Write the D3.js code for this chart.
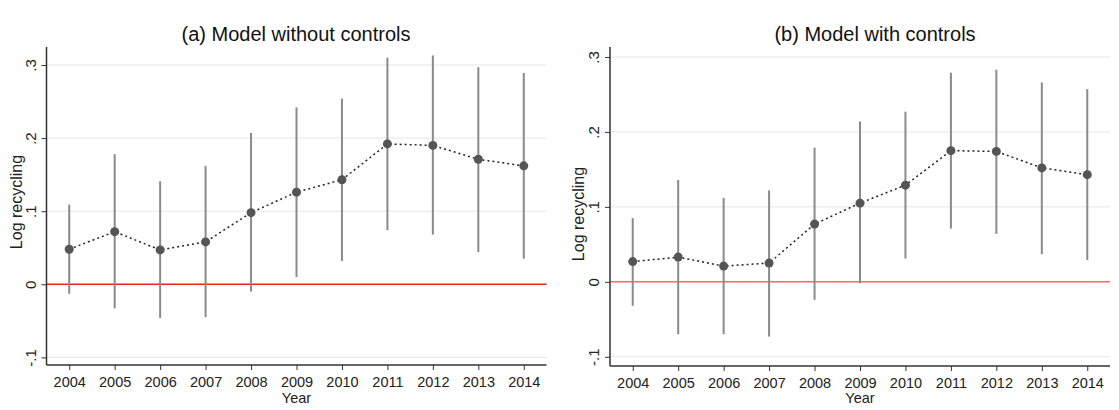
<!DOCTYPE html>
<html>
<head>
<meta charset="utf-8">
<script src="https://cdn.jsdelivr.net/npm/d3@7"></script>
<style>
  body { margin: 0; background: #fff; }
  svg { display: block; font-family: "Liberation Sans", Arial, sans-serif; }
</style>
</head>
<body>
<svg id="chart" width="1119" height="410"></svg>
<script>
const years = [2004, 2005, 2006, 2007, 2008, 2009, 2010, 2011, 2012, 2013, 2014];
const yTicks = [-0.1, 0, 0.1, 0.2, 0.3];
const yTickLabels = ['-.1', '0', '.1', '.2', '.3'];

// (a) model without controls
const estA = [0.048, 0.072, 0.047, 0.058, 0.098, 0.126, 0.143, 0.192, 0.190, 0.171, 0.162];
const lowA = [-0.013, -0.033, -0.046, -0.045, -0.010, 0.010, 0.032, 0.074, 0.068, 0.044, 0.035];
const highA = [0.109, 0.178, 0.141, 0.162, 0.207, 0.242, 0.254, 0.310, 0.313, 0.297, 0.289];

// (b) model with controls
const estB = [0.027, 0.033, 0.021, 0.025, 0.077, 0.105, 0.129, 0.175, 0.174, 0.152, 0.143];
const lowB = [-0.032, -0.070, -0.070, -0.073, -0.024, -0.002, 0.031, 0.071, 0.064, 0.037, 0.029];
const highB = [0.085, 0.136, 0.112, 0.122, 0.179, 0.214, 0.227, 0.279, 0.283, 0.266, 0.257];

const svg = d3.select('#chart');

function drawPanel(opt) {
  const g = svg.append('g');
  const x = d3.scaleLinear().domain([2003.5, 2014.5]).range([opt.left, opt.right]);
  const y = d3.scaleLinear().domain(opt.yDomain).range([opt.bottom, opt.top]);

  // gridlines
  g.selectAll('.grid').data(yTicks.filter(d => d !== 0)).enter()
    .append('line')
    .attr('x1', opt.left).attr('x2', opt.right)
    .attr('y1', d => y(d)).attr('y2', d => y(d))
    .attr('stroke', '#e6e6e6').attr('stroke-width', 1);

  // zero line
  g.append('line')
    .attr('x1', opt.left).attr('x2', opt.right)
    .attr('y1', y(0)).attr('y2', y(0))
    .attr('stroke', opt.zeroColor).attr('stroke-width', 1.5);

  // CI bars
  g.selectAll('.ci').data(years).enter()
    .append('line')
    .attr('x1', d => x(d)).attr('x2', d => x(d))
    .attr('y1', (d, i) => y(opt.low[i])).attr('y2', (d, i) => y(opt.high[i]))
    .attr('stroke', '#8a8a8a').attr('stroke-width', 2);

  // dotted connecting line
  const line = d3.line().x(d => x(d[0])).y(d => y(d[1]));
  g.append('path')
    .datum(years.map((yr, i) => [yr, opt.est[i]]))
    .attr('d', line)
    .attr('fill', 'none')
    .attr('stroke', '#222')
    .attr('stroke-width', 1.5)
    .attr('stroke-dasharray', '2,3');

  // points
  g.selectAll('.pt').data(years).enter()
    .append('circle')
    .attr('cx', d => x(d)).attr('cy', (d, i) => y(opt.est[i]))
    .attr('r', 4.5)
    .attr('fill', '#555');

  // y axis
  const yAxis = d3.axisLeft(y).tickValues(yTicks).tickSize(5)
    .tickFormat((d, i) => yTickLabels[i]);
  const ya = g.append('g').attr('transform', `translate(${opt.left},0)`).call(yAxis);
  ya.select('.domain').attr('d', `M0,${opt.top}V${opt.bottom}`).attr('stroke', '#333').attr('stroke-width', 1.5);
  ya.selectAll('.tick line').attr('stroke', '#333');
  ya.selectAll('.tick text')
    .attr('transform', 'rotate(-90)')
    .attr('x', 0).attr('y', -16)
    .attr('dy', '0.35em')
    .attr('text-anchor', 'middle')
    .attr('font-size', 15).attr('fill', '#222')
    .style('font-family', '"Liberation Sans", Arial, sans-serif');

  // x axis
  const xAxis = d3.axisBottom(x).tickValues(years).tickSize(5).tickFormat(d3.format('d'));
  const xa = g.append('g').attr('transform', `translate(0,${opt.bottom})`).call(xAxis);
  xa.select('.domain').attr('d', `M${opt.left},0H${opt.right}`).attr('stroke', '#333').attr('stroke-width', 1.5);
  xa.selectAll('.tick line').attr('stroke', '#333');
  xa.selectAll('.tick text')
    .attr('y', 12).attr('font-size', 14.5).attr('fill', '#222')
    .style('font-family', '"Liberation Sans", Arial, sans-serif');

  // labels
  g.append('text')
    .attr('x', (opt.left + opt.right) / 2).attr('y', 403)
    .attr('text-anchor', 'middle').attr('font-size', 14.5).attr('fill', '#222')
    .text('Year');

  g.append('text')
    .attr('transform', `translate(${opt.ylabX},${opt.ylabY}) rotate(-90)`)
    .attr('text-anchor', 'middle').attr('font-size', 16).attr('fill', '#222')
    .text('Log recycling');

  g.append('text')
    .attr('x', opt.titleX).attr('y', 41)
    .attr('text-anchor', 'middle').attr('font-size', 20).attr('fill', '#111')
    .text(opt.title);
}

drawPanel({
  title: '(a) Model without controls', titleX: 296,
  est: estA, low: lowA, high: highA,
  left: 46.5, right: 546.5, top: 47, bottom: 365,
  yDomain: [-0.1104, 0.3246],
  zeroColor: '#ff1a1a', ylabX: 22, ylabY: 202
});

drawPanel({
  title: '(b) Model with controls', titleX: 875,
  est: estB, low: lowB, high: highB,
  left: 610, right: 1110, top: 47, bottom: 366,
  yDomain: [-0.1123, 0.3133],
  zeroColor: '#f06a6a', ylabX: 584, ylabY: 214
});
</script>
</body>
</html>
